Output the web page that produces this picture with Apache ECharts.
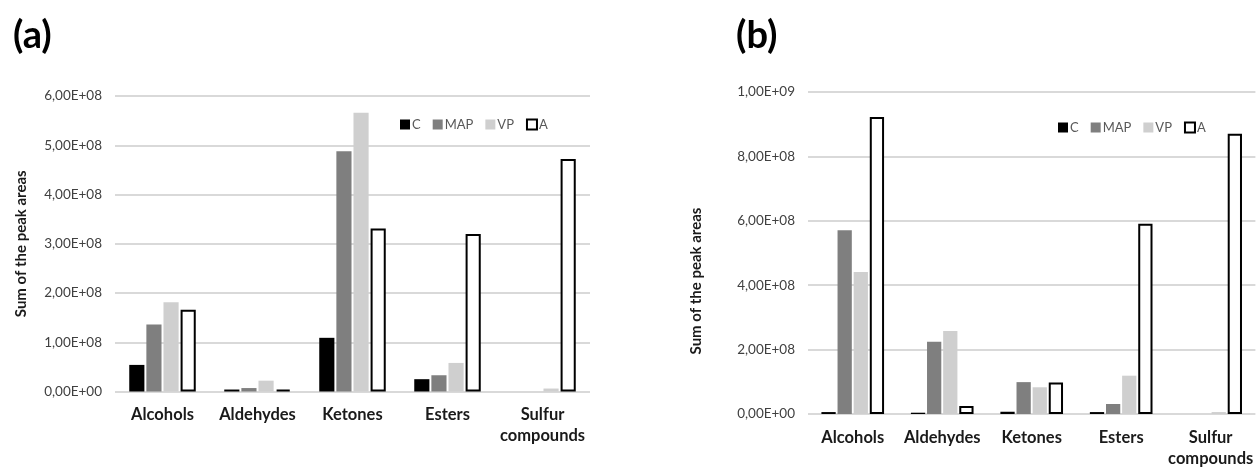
<!DOCTYPE html>
<html>
<head>
<meta charset="utf-8">
<script src="https://cdn.jsdelivr.net/npm/echarts@6/dist/echarts.min.js"></script>
<style>
html,body{margin:0;padding:0;background:#fff;}
#c{width:1256px;height:469px;}
</style>
</head>
<body>
<div id="c"></div>
<script>
const categories = ['Alcohols', 'Aldehydes', 'Ketones', 'Esters', 'Sulfur\ncompounds'];
const seriesNames = ['C', 'MAP', 'VP', 'A'];

// Panel (a)
const a_C   = [0.54e8, 0.04e8, 1.09e8, 0.25e8, 0];
const a_MAP = [1.36e8, 0.07e8, 4.88e8, 0.33e8, 0];
const a_VP  = [1.81e8, 0.22e8, 5.66e8, 0.58e8, 0.06e8];
const a_A   = [1.66e8, 0.04e8, 3.31e8, 3.20e8, 4.72e8];
const yTicksA = ['0,00E+00','1,00E+08','2,00E+08','3,00E+08','4,00E+08','5,00E+08','6,00E+08'];

// Panel (b)
const b_C   = [0.06e8, 0.04e8, 0.07e8, 0.06e8, 0];
const b_MAP = [5.71e8, 2.24e8, 0.99e8, 0.31e8, 0];
const b_VP  = [4.41e8, 2.58e8, 0.83e8, 1.19e8, 0.06e8];
const b_A   = [9.22e8, 0.25e8, 0.98e8, 5.91e8, 8.70e8];
const yTicksB = ['0,00E+00','2,00E+08','4,00E+08','6,00E+08','8,00E+08','1,00E+09'];

const FONT = 'Lato';
const colors = {C:'#000000', MAP:'#7f7f7f', VP:'#cfcfcf', A:'#ffffff'};

function barSeries(name, data, idx){
  const s = {
    name: name, type: 'bar', xAxisIndex: idx, yAxisIndex: idx, data: data,
    barGap: '13%', barCategoryGap: '30%',
    itemStyle: {color: colors[name]},
    emphasis: {disabled: true}
  };
  if (name === 'A') {
    s.itemStyle = {color: '#ffffff', borderColor: '#000000', borderWidth: 2};
  }
  return s;
}

function xAxis(idx){
  return {
    type: 'category', gridIndex: idx, data: categories,
    axisLine: {show: false}, axisTick: {show: false},
    axisLabel: {fontFamily: FONT, fontWeight: 'bold', fontSize: 16.5, color: '#1a1a1a', margin: 13, lineHeight: 21, interval: 0}
  };
}
function yAxis(idx, max, interval, ticks, gap, pad){
  return {
    type: 'value', gridIndex: idx, min: 0, max: max, interval: interval,
    name: 'Sum of the peak areas', nameLocation: 'middle', nameGap: gap, nameRotate: 90,
    nameTextStyle: {fontFamily: FONT, fontWeight: 'bold', fontSize: 15, color: '#1a1a1a', padding: pad},
    axisLine: {show: false}, axisTick: {show: false},
    splitLine: {lineStyle: {color: '#d9d9d9', width: 2}},
    axisLabel: {fontFamily: FONT, fontSize: 13.5, color: '#404040', margin: 13,
      formatter: function(v){ return ticks[Math.round(v / interval)]; }}
  };
}
function legend(idx, left, top){
  return {
    left: left, top: top, itemWidth: 10, itemHeight: 10, itemGap: 12,
    orient: 'horizontal',
    data: seriesNames.map(n => ({name: n, icon: 'rect',
      itemStyle: n === 'A' ? {color:'#fff', borderColor:'#000', borderWidth: 2} : {color: colors[n]}})),
    textStyle: {fontFamily: FONT, fontSize: 13, color: '#595959', padding: [0, 0, 0, -3]},
    selectedMode: false
  };
}

const chart = echarts.init(document.getElementById('c'), null, {renderer: 'canvas'});
chart.setOption({
  animation: false,
  backgroundColor: '#ffffff',
  title: [
    {text: '(a)', left: 8, top: 12, textStyle: {fontFamily: FONT, fontWeight: 'bold', fontSize: 38, color: '#000'}},
    {text: '(b)', left: 731, top: 12, textStyle: {fontFamily: FONT, fontWeight: 'bold', fontSize: 38, color: '#000'}}
  ],
  legend: [legend(0, 395, 113), legend(1, 1053, 116)],
  grid: [
    {left: 115, width: 475, top: 96, bottom: 77.5},
    {left: 808, width: 450, top: 92, bottom: 54.7}
  ],
  xAxis: [xAxis(0), xAxis(1)],
  yAxis: [yAxis(0, 6e8, 1e8, yTicksA, 86, [0, 0, 0, 0]), yAxis(1, 1e9, 2e8, yTicksB, 104, [0, 56, 0, 0])],
  series: [
    barSeries('C', a_C, 0), barSeries('MAP', a_MAP, 0), barSeries('VP', a_VP, 0), barSeries('A', a_A, 0),
    barSeries('C', b_C, 1), barSeries('MAP', b_MAP, 1), barSeries('VP', b_VP, 1), barSeries('A', b_A, 1)
  ]
});
</script>
</body>
</html>
